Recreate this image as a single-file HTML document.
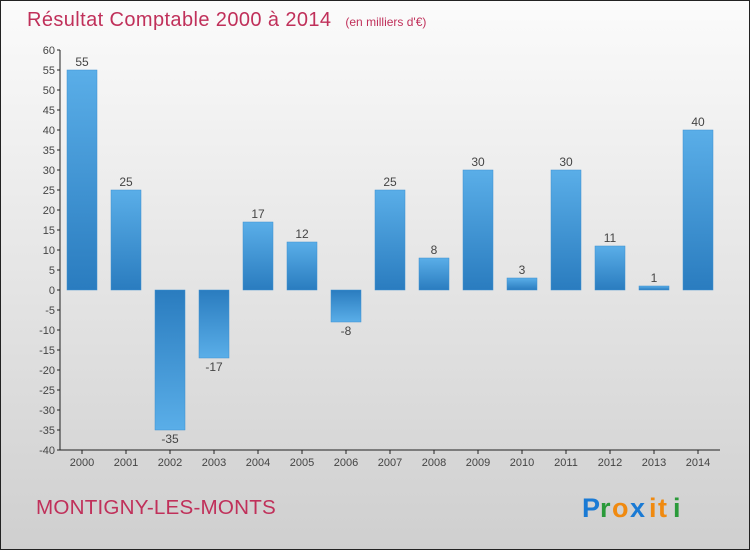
<!DOCTYPE html>
<html><head><meta charset="utf-8"><style>
body{margin:0;width:750px;height:550px;overflow:hidden}
svg text{font-family:"Liberation Sans",sans-serif}
</style></head><body>
<svg width="750" height="550">
<defs>
<linearGradient id="bg" x1="0" y1="0" x2="0" y2="1"><stop offset="0" stop-color="#fbfbfb"/><stop offset="1" stop-color="#cfcfcf"/></linearGradient>
<linearGradient id="bp" x1="0" y1="0" x2="0" y2="1"><stop offset="0" stop-color="#5aaee8"/><stop offset="1" stop-color="#2a7cbf"/></linearGradient>
<linearGradient id="bn" x1="0" y1="0" x2="0" y2="1"><stop offset="0" stop-color="#2a7cbf"/><stop offset="1" stop-color="#5aaee8"/></linearGradient>
</defs>
<rect x="0.5" y="0.5" width="749" height="549" fill="url(#bg)" stroke="#222"/>
<text x="27" y="26" font-size="20" fill="#c0305a" letter-spacing="0.4">Résultat Comptable 2000 à 2014 <tspan font-size="12" dx="8" letter-spacing="0">(en milliers d'€)</tspan></text>
<g id="yaxis"></g>
<g id="xaxis"></g>
<g id="bars"></g>
<text x="36" y="514" font-size="20" fill="#c0305a" letter-spacing="0.2" textLength="240" lengthAdjust="spacingAndGlyphs">MONTIGNY-LES-MONTS</text>
<g font-size="27" font-weight="bold">
<text x="582" y="517" fill="#1a7ad4">P</text><text x="600" y="517" fill="#2a9a3a">r</text><text x="612" y="517" fill="#f08a10">o</text><text x="630" y="517" fill="#1a7ad4">x</text><text x="649" y="517" fill="#f08a10">i</text><text x="658" y="517" fill="#f08a10">t</text><text x="673" y="517" fill="#2a9a3a">i</text>
</g>
</svg>
<script>
const years=["2000","2001","2002","2003","2004","2005","2006","2007","2008","2009","2010","2011","2012","2013","2014"];
const values=[55,25,-35,-17,17,12,-8,25,8,30,3,30,11,1,40];
const yTicks=[60,55,50,45,40,35,30,25,20,15,10,5,0,-5,-10,-15,-20,-25,-30,-35,-40];
const NS="http://www.w3.org/2000/svg";
const y=v=>290-v*4, x=i=>82+i*44;
function mk(t,a,p){const e=document.createElementNS(NS,t);for(const k in a)e.setAttribute(k,a[k]);p.appendChild(e);return e;}
const ya=document.getElementById('yaxis'),xa=document.getElementById('xaxis'),bg=document.getElementById('bars');
mk('line',{x1:60,y1:50,x2:60,y2:450,stroke:'#222'},ya);
yTicks.forEach(v=>{mk('line',{x1:57,x2:60,y1:y(v),y2:y(v),stroke:'#222'},ya);
const t=mk('text',{x:55,y:y(v)+4,'text-anchor':'end','font-size':11,fill:'#444'},ya);t.textContent=v;

});
mk('line',{x1:60,y1:450,x2:720,y2:450,stroke:'#222'},xa);
years.forEach((yr,i)=>{mk('line',{x1:x(i),x2:x(i),y1:450,y2:454,stroke:'#222'},xa);
const t=mk('text',{x:x(i),y:466,'text-anchor':'middle','font-size':11,fill:'#444'},xa);t.textContent=yr;

});
values.forEach((v,i)=>{const top=Math.min(y(v),y(0)),h=Math.abs(y(v)-y(0));
const r=mk('rect',{x:x(i)-15,y:top,width:30,height:h,fill:v>=0?'url(#bp)':'url(#bn)',stroke:'#3d8fd0','stroke-width':0.5},bg);


const t=mk('text',{x:x(i),y:v>=0?y(v)-4:y(v)+13,'text-anchor':'middle','font-size':12,fill:'#444'},bg);t.textContent=v;

});
</script>
</body></html>
